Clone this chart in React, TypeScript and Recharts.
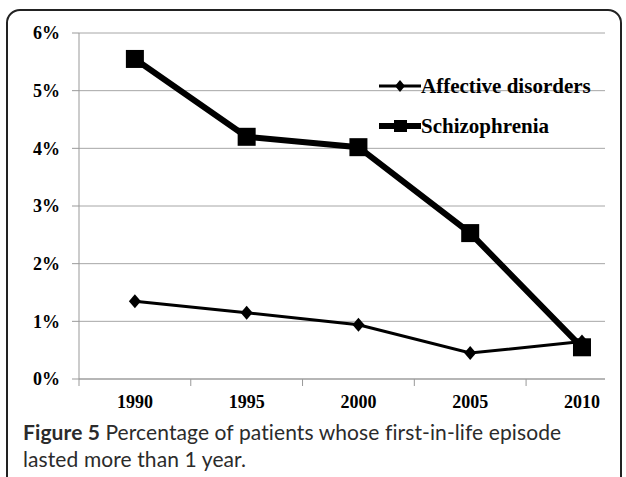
import { LineChart, Line, XAxis, YAxis, CartesianGrid } from 'recharts';

const years = [1990, 1995, 2000, 2005, 2010];
const affective = [1.35, 1.15, 0.94, 0.45, 0.65];
const schizophrenia = [5.55, 4.2, 4.02, 2.53, 0.55];
const yTicks = [0, 1, 2, 3, 4, 5, 6];
// category boundaries (tick marks sit between the years, Excel style)
const bandEdges = [1987.5, 1992.5, 1997.5, 2002.5, 2007.5];

const data = years.map((y, i) => ({ year: y, affective: affective[i], schizophrenia: schizophrenia[i] }));

const serif = '"Liberation Serif", "Times New Roman", serif';

const Diamond = (props: any) => {
    const { cx, cy } = props;
    if (cx == null || cy == null) return null;
    return <polygon points={`${cx},${cy - 7} ${cx + 6},${cy} ${cx},${cy + 7} ${cx - 6},${cy}`} fill="#000" />;
};

const Square = (props: any) => {
    const { cx, cy } = props;
    if (cx == null || cy == null) return null;
    return <rect x={cx - 9} y={cy - 9} width={18} height={18} fill="#000" />;
};

const XTick = (props: any) => {
    const { x, y, payload } = props;
    if (bandEdges.includes(payload.value)) {
        return <line x1={x} x2={x} y1={y} y2={y + 7} stroke="#999" strokeWidth={1} />;
    }
    return (
        <text x={x} y={y + 29} textAnchor="middle" fontFamily={serif} fontWeight="bold" fontSize={18} fill="#000">
            {payload.value}
        </text>
    );
};

const LegendBox = () => (
    <div style={{ fontFamily: serif, fontWeight: 'bold', fontSize: 21, color: '#000' }}>
        <div style={{ display: 'flex', alignItems: 'center', height: 24, marginBottom: 16 }}>
            <svg width={42} height={20}>
                <line x1={0} x2={42} y1={10} y2={10} stroke="#000" strokeWidth={3} />
                <polygon points="21,4 26,10 21,16 16,10" fill="#000" />
            </svg>
            <span>Affective disorders</span>
        </div>
        <div style={{ display: 'flex', alignItems: 'center', height: 24 }}>
            <svg width={42} height={20}>
                <line x1={0} x2={42} y1={10} y2={10} stroke="#000" strokeWidth={6} strokeLinecap="round" />
                <rect x={15} y={4} width={13} height={12} fill="#000" />
            </svg>
            <span>Schizophrenia</span>
        </div>
    </div>
);

export default function App() {
    return (
        <div style={{ position: 'absolute', left: 0, top: 0, width: 626, height: 477, overflow: 'hidden', background: '#fff' }}>
            <div
                style={{
                    position: 'absolute', left: 6, top: 9, width: 616, height: 520,
                    border: '2px solid #222', borderRadius: 14, boxSizing: 'border-box',
                }}
            />
            <div style={{ position: 'absolute', left: 0, top: 0 }}>
                <LineChart width={626} height={420} data={data} margin={{ top: 33, right: 21, bottom: 11, left: 0 }}>
                    <CartesianGrid horizontal vertical={false} stroke="#a6a6a6" />
                    <XAxis
                        dataKey="year"
                        type="number"
                        domain={[1987.5, 2011.03]}
                        allowDataOverflow
                        ticks={[...bandEdges, ...years]}
                        interval={0}
                        height={30}
                        stroke="#999"
                        tickLine={false}
                        tickSize={0}
                        tickMargin={0}
                        tick={<XTick />}
                    />
                    <YAxis
                        width={79}
                        domain={[0, 6]}
                        ticks={yTicks}
                        interval={0}
                        stroke="#999"
                        tickSize={7}
                        tickMargin={12}
                        tickFormatter={(v) => `${v}%`}
                        tick={{ fill: '#000', fontFamily: serif, fontWeight: 'bold', fontSize: 18 }}
                    />
                    <Line
                        dataKey="affective"
                        name="Affective disorders"
                        stroke="#000"
                        strokeWidth={3}
                        dot={<Diamond />}
                        activeDot={false}
                        isAnimationActive={false}
                    />
                    <Line
                        dataKey="schizophrenia"
                        name="Schizophrenia"
                        stroke="#000"
                        strokeWidth={6}
                        dot={<Square />}
                        activeDot={false}
                        isAnimationActive={false}
                    />
                </LineChart>
            </div>
            <div style={{ position: 'absolute', left: 379, top: 74, width: 240 }}>
                <LegendBox />
            </div>
            <div
                style={{
                    position: 'absolute', left: 23, top: 418, width: 570,
                    fontFamily: 'Lato, "Open Sans", sans-serif', fontSize: 21, letterSpacing: 0.1,
                    lineHeight: '27px', color: '#2b2b2b',
                }}
            >
                <b>Figure 5</b> Percentage of patients whose first-in-life episode lasted more than 1 year.
            </div>
        </div>
    );
}
